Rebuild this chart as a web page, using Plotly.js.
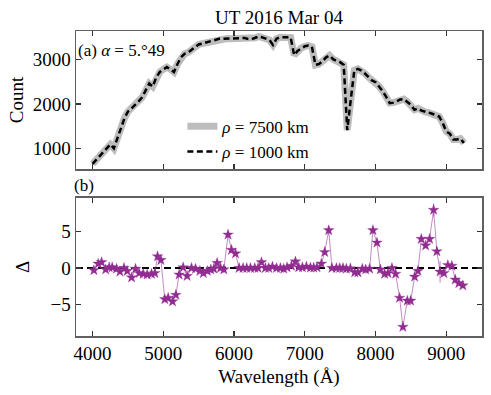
<!DOCTYPE html>
<html>
<head>
<meta charset="utf-8">
<script src="https://cdn.plot.ly/plotly-3.0.1.min.js"></script>
<style>
  html, body { margin: 0; padding: 0; background: #fff; }
  #chart { width: 491px; height: 395px; }
</style>
</head>
<body>
<div id="chart"></div>
<script>
// Panel (a): spectrum counts (the two apertures overlap)
const wavelengths = [
  4000, 4050, 4100, 4150, 4200, 4250, 4300, 4350, 4400, 4450,
  4500, 4550, 4600, 4650, 4700, 4750, 4800, 4850, 4900, 4950,
  5000, 5050, 5100, 5150, 5200, 5250, 5300, 5350, 5400, 5450,
  5500, 5550, 5600, 5650, 5700, 5750, 5800, 5850, 5900, 5950,
  6000, 6050, 6100, 6150, 6200, 6250, 6300, 6350, 6400, 6450,
  6500, 6550, 6600, 6650, 6700, 6750, 6800, 6850, 6900, 6950,
  7000, 7050, 7100, 7150, 7200, 7250, 7300, 7350, 7400, 7450,
  7500, 7550, 7600, 7650, 7700, 7750, 7800, 7850, 7900, 7950,
  8000, 8050, 8100, 8150, 8200, 8250, 8300, 8350, 8400, 8450,
  8500, 8550, 8600, 8650, 8700, 8750, 8800, 8850, 8900, 8950,
  9000, 9050, 9100, 9150, 9200, 9250
];
const counts7500 = [
  650, 740, 830, 924, 1010, 1090, 1000, 1250, 1450, 1680,
  1830, 1900, 1975, 2060, 2150, 2300, 2460, 2390, 2600, 2720,
  2780, 2830, 2780, 2720, 2900, 3050, 3130, 3160, 3220, 3290,
  3340, 3360, 3380, 3395, 3420, 3450, 3472, 3470, 3475, 3470,
  3470, 3475, 3490, 3485, 3465, 3460, 3490, 3520, 3500, 3475,
  3440, 3330, 3470, 3500, 3508, 3500, 3494, 3100, 3200, 3260,
  3299, 3315, 3290, 2880, 2900, 2960, 3050, 3090, 3010, 2970,
  2940, 2880, 1411, 2100, 2759, 2790, 2750, 2685, 2600, 2530,
  2490, 2400, 2290, 2160, 2020, 2030, 2060, 2100, 2110, 2050,
  1980, 1870, 1900, 1850, 1820, 1805, 1780, 1750, 1715, 1570,
  1380, 1330, 1200, 1200, 1220, 1120
];
const counts1000 = counts7500.slice();

// Panel (b): difference between the two apertures
const diffWavelengths = [
  4018, 4079, 4127, 4184, 4234, 4277, 4339, 4386, 4443, 4489,
  4551, 4607, 4658, 4715, 4771, 4833, 4880, 4918, 4965, 5021,
  5068, 5130, 5177, 5223, 5280, 5336, 5398, 5455, 5516, 5565,
  5621, 5671, 5713, 5760, 5808, 5855, 5915, 5963, 6020, 6071,
  6127, 6179, 6232, 6292, 6339, 6387, 6443, 6490, 6542, 6599,
  6655, 6702, 6749, 6811, 6867, 6914, 6966, 7023, 7079, 7126,
  7172, 7234, 7281, 7338, 7384, 7446, 7493, 7540, 7587, 7644,
  7705, 7751, 7813, 7860, 7916, 7963, 8020, 8068, 8128, 8175,
  8232, 8284, 8340, 8387, 8449, 8496, 8553, 8599, 8647, 8708,
  8764, 8821, 8867, 8912, 8966, 9022, 9079, 9127, 9178, 9234
];
const deltas = [
  -0.3, 0.6, 0.8, -0.2, 0.1, 0.1, -0.1, -0.5, 0.0, -0.4,
  -1.3, -0.1, -0.7, -0.8, -0.9, -0.8, -0.7, 1.6, 1.1, -4.3,
  -4.1, -4.6, -3.7, -0.9, 0.1, -1.1, 0.0, -0.1, -0.4, -0.7,
  -0.4, -0.2, -0.1, 0.7, 0.0, -0.2, 4.6, 2.5, 2.0, 0.0,
  0.0, 0.0, 0.0, 0.0, 0.0, 0.8, 0.0, 0.0, 0.2, 0.0,
  0.0, -0.1, 0.1, 0.3, 0.9, 0.1, 0.1, 0.2, 0.05, 0.05,
  0.1, 0.6, 2.2, 5.2, 0.0, 0.0, 0.0, 0.0, -0.1, -0.05,
  -0.6, -0.6, -0.1, -0.2, -0.1, 5.2, 3.5, -0.2, -0.8, -0.7,
  0.0, -0.8, -4.1, -8.1, -4.5, -4.5, -1.2, -0.4, 4.0, 3.1,
  4.0, 8.0, 2.3, -0.5, -0.7, 0.4, 0.3, -1.6, -2.1, -2.4
];
const deltaErrors = [
  0.3, 0.3, 0.3, 0.3, 0.3, 0.3, 0.3, 0.3, 0.3, 0.3,
  0.3, 0.3, 0.3, 0.3, 0.3, 0.3, 0.3, 0.4, 0.3, 0.3,
  0.3, 0.3, 0.3, 0.3, 0.3, 0.3, 0.3, 0.3, 0.3, 0.3,
  0.3, 0.3, 0.3, 0.3, 0.3, 0.3, 0.4, 0.3, 0.3, 0.3,
  0.3, 0.3, 0.3, 0.3, 0.3, 0.3, 0.3, 0.3, 0.3, 0.3,
  0.3, 0.3, 0.3, 0.3, 0.3, 0.3, 0.3, 0.3, 0.3, 0.3,
  0.3, 0.3, 0.4, 0.6, 0.3, 0.3, 0.3, 0.3, 0.3, 0.3,
  0.3, 0.3, 0.3, 0.3, 0.3, 0.5, 0.4, 0.3, 0.3, 0.3,
  0.3, 0.3, 0.4, 0.5, 0.4, 0.4, 0.3, 0.3, 0.4, 0.4,
  0.4, 0.9, 0.5, 1.5, 0.4, 0.3, 0.3, 0.3, 0.3, 0.3
];

const serif = '"Liberation Serif", "Times New Roman", serif';
const purple = '#912c91';
const frame = '#606060';

const traces = [
  {
    x: wavelengths, y: counts7500,
    type: 'scatter', mode: 'lines',
    name: '<i>ρ</i> = 7500 km',
    line: { color: '#bdbdbd', width: 7 },
    xaxis: 'x', yaxis: 'y'
  },
  {
    x: wavelengths, y: counts1000,
    type: 'scatter', mode: 'lines',
    name: '<i>ρ</i> = 1000 km',
    line: { color: '#000', width: 2.5, dash: '6px,3.5px' },
    xaxis: 'x', yaxis: 'y'
  },
  {
    x: diffWavelengths, y: deltas,
    type: 'scatter', mode: 'lines+markers',
    showlegend: false,
    line: { color: 'rgba(145,44,145,0.55)', width: 1 },
    marker: { symbol: 'star', size: 8, color: purple,
              line: { color: 'rgba(145,44,145,0.6)', width: 0.5 } },
    error_y: { type: 'data', array: deltaErrors, color: 'rgba(145,44,145,0.6)',
               thickness: 1, width: 0 },
    xaxis: 'x2', yaxis: 'y2'
  }
];

const axisStyle = {
  showline: true, linecolor: frame, linewidth: 1.5, mirror: 'allticks',
  ticks: 'inside', ticklen: 5, tickwidth: 1.2, tickcolor: '#333',
  showgrid: false, zeroline: false,
  tickfont: { family: serif, size: 19, color: '#000' }
};

const layout = {
  width: 491, height: 395,
  margin: { l: 76, r: 9, t: 31, b: 59 },
  paper_bgcolor: '#fff', plot_bgcolor: '#fff',
  font: { family: serif, color: '#000' },
  title: {
    text: 'UT 2016 Mar 04',
    font: { family: serif, size: 19 },
    x: 0.5, xref: 'paper', y: 0.955, yref: 'container', yanchor: 'middle'
  },
  showlegend: true,
  legend: {
    x: 0.262, y: 0.745, xanchor: 'left', yanchor: 'top',
    bgcolor: 'rgba(0,0,0,0)', font: { family: serif, size: 17 },
    tracegroupgap: 0
  },
  xaxis: Object.assign({}, axisStyle, {
    domain: [0, 1], anchor: 'y', range: [3765, 9505],
    tickvals: [4000, 5000, 6000, 7000, 8000, 9000], showticklabels: false
  }),
  yaxis: Object.assign({}, axisStyle, {
    domain: [0.5475, 1], anchor: 'x', range: [535, 3643],
    tickvals: [1000, 2000, 3000],
    title: { text: 'Count', font: { family: serif, size: 19 }, standoff: 4 }
  }),
  xaxis2: Object.assign({}, axisStyle, {
    domain: [0, 1], anchor: 'y2', range: [3765, 9505],
    tickvals: [4000, 5000, 6000, 7000, 8000, 9000],
    title: { text: 'Wavelength (Å)', font: { family: serif, size: 19 }, standoff: 6 }
  }),
  yaxis2: Object.assign({}, axisStyle, {
    domain: [0, 0.4525], anchor: 'x2', range: [-9.35, 9.65],
    tickvals: [-5, 0, 5],
    title: { text: 'Δ', font: { family: serif, size: 19 }, standoff: 16 }
  }),
  shapes: [
    {
      type: 'line', xref: 'x2 domain', yref: 'y2',
      x0: 0, x1: 1, y0: 0, y1: 0,
      line: { color: '#000', width: 2, dash: '7px,4px' },
      layer: 'below'
    }
  ],
  annotations: [
    {
      text: '(a) <i>α</i> = 5.°49', xref: 'x domain', yref: 'y domain',
      x: 0.0, y: 0.86, xanchor: 'left', yanchor: 'middle', showarrow: false,
      font: { family: serif, size: 17 }
    },
    {
      text: '(b)', xref: 'x2 domain', yref: 'y2 domain',
      x: -0.01, y: 1.01, xanchor: 'left', yanchor: 'bottom', showarrow: false,
      font: { family: serif, size: 17 }
    }
  ]
};

Plotly.newPlot('chart', traces, layout, { displayModeBar: false, staticPlot: true });
</script>
</body>
</html>
